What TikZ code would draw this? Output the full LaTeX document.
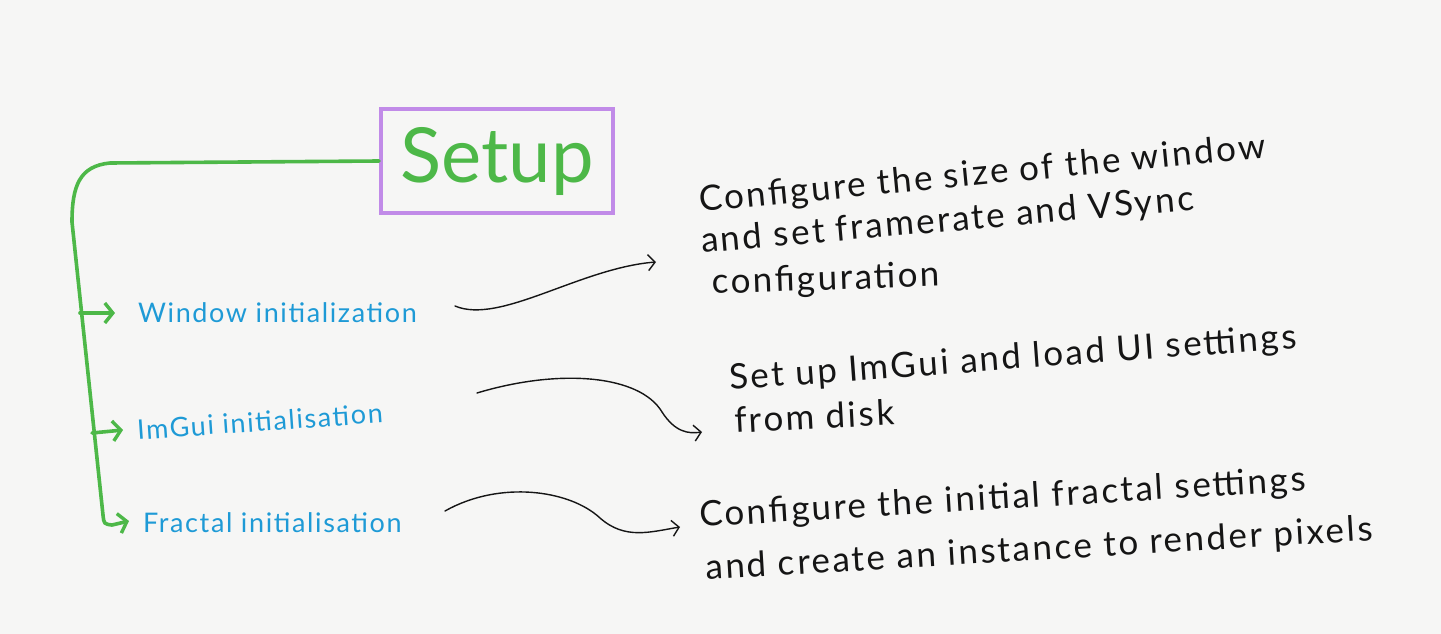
\documentclass[tikz,border=0pt]{standalone}
\usepackage{fontspec}
\setmainfont{Lato}
\usetikzlibrary{arrows.meta}
\definecolor{paper}{HTML}{F6F6F5}
\definecolor{pengreen}{HTML}{4DB848}
\definecolor{penpurple}{HTML}{C18BE8}
\definecolor{penblue}{HTML}{1E9AD6}
\definecolor{penblack}{HTML}{151515}
\tikzset{
  trunk/.style={draw=pengreen, line width=3.6pt, line cap=round, line join=round},
  branch/.style={trunk, -{Straight Barb[length=8pt,width=20pt,line width=3.4pt]}},
  link/.style={draw=penblack, line width=1.4pt, line cap=round, -{Straight Barb[length=7pt,width=16pt,line width=1.4pt]}},
  label/.style={text=penblue, font=\fontsize{27}{30}\selectfont\addfontfeature{LetterSpace=6}, anchor=west, inner sep=0pt},
  desc/.style={text=penblack, font=\fontsize{35}{40}\selectfont\addfontfeature{LetterSpace=7}, anchor=base west, inner sep=0pt},
}
\begin{document}
\begin{tikzpicture}[x=1pt,y=-1pt]
\fill[paper] (0,0) rectangle (1441,634);
\useasboundingbox (0,0) rectangle (1441,634);

\node[draw=penpurple, line width=4pt, minimum width=232pt, minimum height=104pt,
      text=pengreen, font=\fontsize{76}{80}\selectfont] (setup) at (497,161) {Setup};

\node[label] (win) at (138,313) {Window initialization};
\node[label, rotate=4] (imgui) at (137,430) {ImGui initialisation};
\node[label] (fractal) at (143,523) {Fractal initialisation};

\node[desc, rotate=5.5] (d1a) at (700,212) {Configure the size of the window};
\node[desc, rotate=5] (d1b) at (702,253) {and set framerate and VSync};
\node[desc, rotate=2] (d1c) at (712,294) {configuration};
\node[desc, rotate=4.2] (d2a) at (730,390) {Set up ImGui and load UI settings};
\node[desc, rotate=3] (d2b) at (735,433) {from disk};
\node[desc, rotate=3.4] (d3a) at (700,527) {Configure the initial fractal settings};
\node[desc, rotate=3.4] (d3b) at (706,580) {and create an instance to render pixels};

% green tree
\coordinate (c0) at (110,163);
\coordinate (c1) at (72,222);
\coordinate (b1) at (80,313);
\coordinate (b2) at (92,433);
\coordinate (b3) at (103,515);
\coordinate (b4) at (112,525);
\path[trunk] (setup.west) -- (c0) .. controls (80,166) and (72,185) .. (c1) -- (b3) .. controls (104,524) .. (b4);
\draw[branch] (b1) -- ([xshift=-23pt]win.west);
\draw[branch] (b2) -- ([xshift=-14pt]imgui.west);
\draw[branch] (b4) -- ([xshift=-14pt,yshift=2pt]fractal.west);

% black connectors
\coordinate (s1) at (455,306);
\coordinate (e1) at (656,262);
\draw[link] (s1) .. controls (500,325) and (580,268) .. (e1);
\coordinate (s2) at (477,393);
\coordinate (e2) at (702,432);
\draw[link] (s2) .. controls (560,368) and (640,375) .. (662,412) .. controls (675,432) and (688,434) .. (e2);
\coordinate (s3) at (445,511);
\coordinate (e3) at (680,527);
\draw[link] (s3) .. controls (500,480) and (570,490) .. (600,518) .. controls (625,540) and (650,532) .. (e3);
\end{tikzpicture}
\end{document}
